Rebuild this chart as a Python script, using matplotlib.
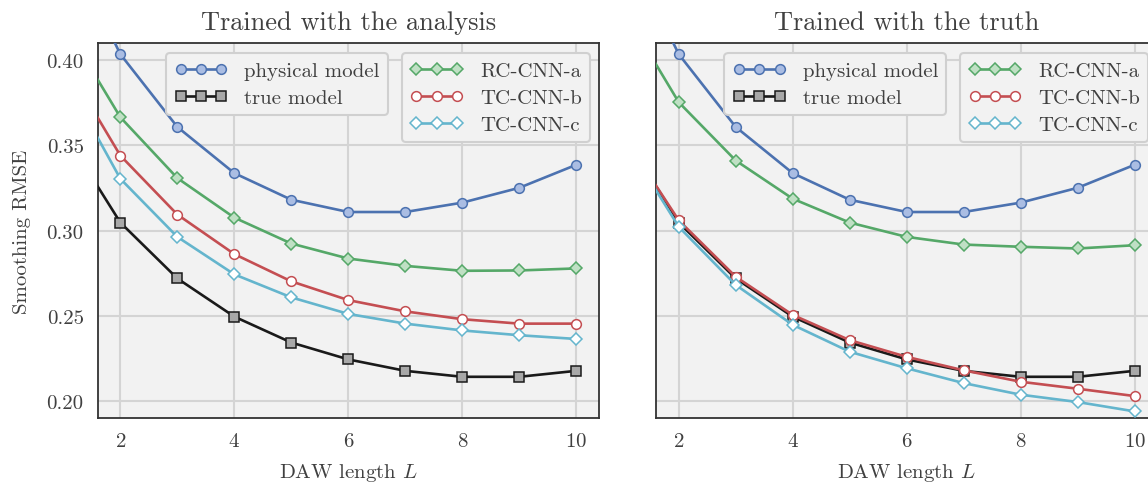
#!/usr/bin/env python3

import numpy as np
import matplotlib
matplotlib.use('Agg')
import matplotlib.pyplot as plt

# DAW length
daw = [1, 2, 3, 4, 5, 6, 7, 8, 9, 10]

# same in both panels
physical = [0.472, 0.4035, 0.3608, 0.3337, 0.3181, 0.3109, 0.3109, 0.3164, 0.3251, 0.3386]
true_model = [0.358, 0.3047, 0.2719, 0.2495, 0.2343, 0.2244, 0.2177, 0.2142, 0.2142, 0.2177]

# trained with the analysis
rc_a_ana = [0.422, 0.3665, 0.3308, 0.3076, 0.2924, 0.2836, 0.2793, 0.2764, 0.2766, 0.2778]
tc_b_ana = [0.400, 0.3440, 0.3094, 0.2862, 0.2702, 0.2592, 0.2526, 0.2480, 0.2454, 0.2454]
tc_c_ana = [0.391, 0.3304, 0.2963, 0.2743, 0.2608, 0.2511, 0.2454, 0.2414, 0.2386, 0.2364]

# trained with the truth
rc_a_tru = [0.431, 0.3753, 0.3411, 0.3187, 0.3047, 0.2963, 0.2918, 0.2905, 0.2895, 0.2914]
tc_b_tru = [0.357, 0.3060, 0.2729, 0.2505, 0.2357, 0.2259, 0.2180, 0.2113, 0.2072, 0.2029]
tc_c_tru = [0.356, 0.3022, 0.2681, 0.2447, 0.2289, 0.2192, 0.2105, 0.2037, 0.1994, 0.1939]

titles = ['Trained with the analysis', 'Trained with the truth']
xticks = [2, 4, 6, 8, 10]
yticks = [0.20, 0.25, 0.30, 0.35, 0.40]

plt.rcParams['font.family'] = ['cmr10', 'DejaVu Serif']
plt.rcParams['mathtext.fontset'] = 'cm'
plt.rcParams['axes.formatter.use_mathtext'] = True
plt.rcParams['axes.unicode_minus'] = False

TXT = '#404040'
BLUE, GREEN, RED, CYAN = '#4C72B0', '#55A868', '#C44E52', '#64B5CD'


def draw_panel(ax, rc_a, tc_b, tc_c, title, ylabel=True):
    ax.set_facecolor('#f2f2f2')
    ax.grid(True, color='#d4d4d4', linewidth=1.5, zorder=0)
    ax.set_axisbelow(True)
    for s in ax.spines.values():
        s.set_color('#333333')
        s.set_linewidth(1.3)

    kw = dict(linewidth=1.9, markersize=7, markeredgewidth=1.1, zorder=3)
    h_phys, = ax.plot(daw, physical, '-o', color=BLUE, markerfacecolor='#aabde3',
                      markeredgecolor=BLUE, label='physical model', **kw)
    h_true, = ax.plot(daw, true_model, '-s', color='#1a1a1a', markerfacecolor='#a8a8a8',
                      markeredgecolor='#1a1a1a', label='true model', **kw)
    h_a, = ax.plot(daw, rc_a, '-D', color=GREEN, markerfacecolor='#bfe0c4',
                   markeredgecolor=GREEN, label='RC-CNN-a', **dict(kw, markersize=6.5))
    h_b, = ax.plot(daw, tc_b, '-o', color=RED, markerfacecolor='white',
                   markeredgecolor=RED, label='TC-CNN-b', **kw)
    h_c, = ax.plot(daw, tc_c, '-D', color=CYAN, markerfacecolor='white',
                   markeredgecolor=CYAN, label='TC-CNN-c', **dict(kw, markersize=6.5))

    ax.set_xlim(1.6, 10.4)
    ax.set_ylim(0.19, 0.41)
    ax.set_xticks(xticks)
    ax.set_yticks(yticks)
    ax.set_yticklabels(['%.2f' % v for v in yticks])
    ax.tick_params(length=0, labelsize=15, labelcolor=TXT, pad=10)
    ax.set_xlabel(r'DAW length $L$', fontsize=15, color=TXT, labelpad=8)
    ax.set_title(title, fontsize=19, color=TXT, pad=10)
    if ylabel:
        ax.set_ylabel('Smoothing RMSE', fontsize=15, color=TXT, labelpad=11)
    else:
        ax.tick_params(labelleft=False)

    leg_kw = dict(fontsize=15, numpoints=3, frameon=True, facecolor='#f2f2f2',
                  edgecolor='#d0d0d0', framealpha=1.0, handlelength=2.55,
                  handletextpad=0.8, borderpad=0.4, labelspacing=0.4,
                  borderaxespad=0.0, labelcolor=TXT)
    leg1 = ax.legend([h_phys, h_true], ['physical model', 'true model'],
                     loc='upper right', bbox_to_anchor=(0.579, 0.973), **leg_kw)
    leg1.get_frame().set_linewidth(1.5)
    ax.add_artist(leg1)
    leg2 = ax.legend([h_a, h_b, h_c], ['RC-CNN-a', 'TC-CNN-b', 'TC-CNN-c'],
                     loc='upper right', bbox_to_anchor=(0.982, 0.973), **leg_kw)
    leg2.get_frame().set_linewidth(1.5)


fig = plt.figure(figsize=(11.48, 4.85), dpi=100)
ax1 = fig.add_axes([0.085, 0.136, 0.4368, 0.773])
ax2 = fig.add_axes([0.5714, 0.136, 0.4368, 0.773])

draw_panel(ax1, rc_a_ana, tc_b_ana, tc_c_ana, titles[0])
draw_panel(ax2, rc_a_tru, tc_b_tru, tc_c_tru, titles[1], ylabel=False)

fig.savefig('out.png', dpi=100)
